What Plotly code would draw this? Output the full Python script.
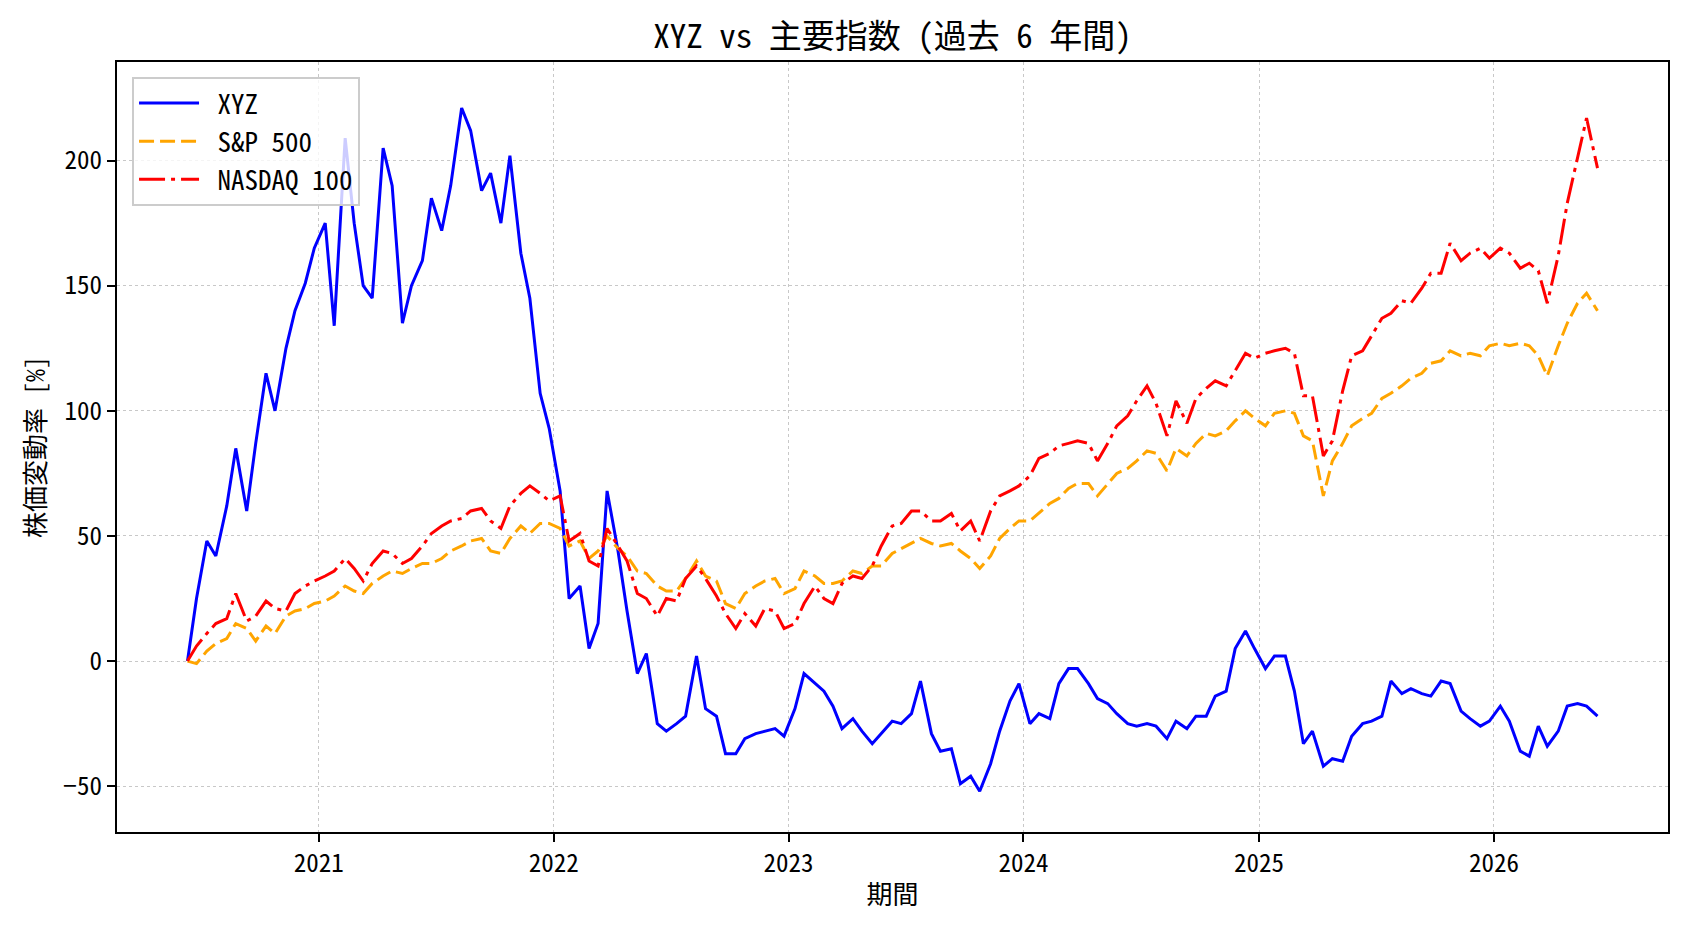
import pandas as pd
import plotly.graph_objects as go

# Semi-monthly observation dates (2020-06-11 ... 2026-06-11)
dates = pd.date_range("2020-06-01", "2026-06-01", freq="SMS") + pd.Timedelta(days=10)

xyz = [
    0, 25, 48, 42, 62, 85, 60, 87, 115, 100,
    125, 140, 151, 165, 175, 134, 209, 175, 150, 145,
    205, 190, 135, 150, 160, 185, 172, 190, 221, 212,
    188, 195, 175, 202, 163, 145, 107, 93, 68, 25,
    30, 5, 15, 68, 44, 20, -5, 3, -25, -28,
    -25, -22, 2, -19, -22, -37, -37, -31, -29, -28,
    -27, -30, -19, -5, -9, -12, -18, -27, -23, -28,
    -33, -29, -24, -25, -21, -8, -29, -36, -35, -49,
    -46, -52, -41, -28, -16, -9, -25, -21, -23, -9,
    -3, -3, -9, -15, -17, -21, -25, -26, -25, -26,
    -31, -24, -27, -22, -22, -14, -12, 5, 12, 5,
    -3, 2, 2, -12, -33, -28, -42, -39, -40, -30,
    -25, -24, -22, -8, -13, -11, -13, -14, -8, -9,
    -20, -23, -26, -24, -18, -24, -36, -38, -26, -34,
    -28, -18, -17, -18, -22,
]

sp500 = [
    0, -1, 4, 7, 9, 15, 13, 8, 14, 11,
    18, 20, 21, 23, 24, 26, 30, 28, 27, 31,
    34, 36, 35, 37, 39, 39, 41, 44, 46, 48,
    49, 44, 43, 49, 54, 51, 55, 55, 53, 46,
    48, 41, 44, 50, 45, 42, 36, 35, 30, 28,
    28, 33, 40, 34, 32, 23, 21, 27, 30, 32,
    33, 27, 29, 36, 34, 31, 31, 32, 36, 35,
    38, 38, 43, 45, 47, 49, 47, 46, 47, 44,
    41, 37, 42, 49, 53, 56, 56, 59, 63, 65,
    69, 71, 71, 66, 71, 75, 77, 80, 84, 83,
    76, 85, 82, 87, 91, 90, 92, 96, 100, 97,
    94, 99, 100, 99, 90, 88, 66, 80, 87, 94,
    97, 99, 105, 107, 110, 113, 115, 119, 120, 124,
    122, 123, 122, 126, 127, 126, 127, 126, 122, 114,
    126, 135, 143, 147, 140,
]

nasdaq100 = [
    0, 6, 11, 15, 17, 27, 16, 18, 24, 21,
    20, 27, 30, 32, 34, 36, 41, 37, 32, 39,
    44, 43, 39, 41, 46, 51, 54, 56, 57, 60,
    61, 56, 53, 62, 67, 70, 67, 64, 66, 48,
    51, 40, 38, 53, 46, 40, 27, 25, 18, 25,
    24, 33, 38, 33, 26, 19, 13, 19, 14, 21,
    20, 13, 15, 23, 30, 25, 23, 31, 34, 33,
    38, 46, 54, 55, 60, 60, 56, 56, 59, 52,
    56, 48, 60, 66, 68, 70, 74, 81, 83, 86,
    87, 88, 87, 80, 87, 94, 98, 104, 110, 103,
    90, 104, 95, 105, 109, 112, 110, 116, 123, 121,
    123, 124, 125, 123, 106, 106, 82, 88, 108, 122,
    124, 130, 137, 139, 144, 143, 149, 155, 155, 167,
    160, 163, 165, 161, 165, 163, 157, 159, 156, 143,
    162, 183, 201, 217, 197,
]

year_ticks = ["2021", "2022", "2023", "2024", "2025", "2026"]
y_ticks = [-50, 0, 50, 100, 150, 200]

assert len(xyz) == len(dates) == len(sp500) == len(nasdaq100)

FONT = "Noto Sans Mono CJK JP, Noto Sans CJK JP, sans-serif"
PAD = "\u00a0"

fig = go.Figure()
fig.add_trace(go.Scatter(x=dates, y=xyz, mode="lines", name=PAD + "XYZ",
                         line=dict(color="#0000ff", width=3)))
fig.add_trace(go.Scatter(x=dates, y=sp500, mode="lines", name=PAD + "S&P 500",
                         line=dict(color="#ffa500", width=3, dash="15px,6px")))
fig.add_trace(go.Scatter(x=dates, y=nasdaq100, mode="lines", name=PAD + "NASDAQ 100",
                         line=dict(color="#ff0000", width=3, dash="26px,6px,4px,6px")))

span = dates[-1] - dates[0]
x0 = dates[0] - 0.05 * span
x1 = dates[-1] + 0.05 * span

fig.update_layout(
    width=1688, height=932,
    margin=dict(l=117, r=20, t=62, b=100, autoexpand=False),
    paper_bgcolor="white", plot_bgcolor="white",
    font=dict(family=FONT, size=26, color="black"),
    title=dict(text="XYZ vs 主要指数 (過去 6 年間)", xref="paper", x=0.5, xanchor="center",
               yref="container", y=1 - 36 / 932, yanchor="middle",
               font=dict(family=FONT, size=33, color="black")),
    legend=dict(x=0.0097, y=0.9805, xanchor="left", yanchor="top",
                bgcolor="rgba(255,255,255,0.8)", bordercolor="#cccccc", borderwidth=2,
                font=dict(family=FONT, size=27, color="black"), itemwidth=60,
                tracegroupgap=0),
    showlegend=True,
)

fig.update_xaxes(
    type="date", range=[x0, x1], automargin=False,
    tickvals=[pd.Timestamp(f"{y}-01-01") for y in year_ticks], ticktext=year_ticks,
    showline=True, linecolor="black", linewidth=2, mirror=True,
    ticks="outside", ticklen=8, tickwidth=1.5, tickcolor="black",
    showgrid=True, gridcolor="#c8c8c8", gridwidth=1.2, griddash="dot",
    zeroline=False,
    title=dict(text="期間", standoff=8, font=dict(family=FONT, size=26)),
    tickfont=dict(family=FONT, size=25),
)
fig.update_yaxes(
    range=[-68.3, 239.4], automargin=False,
    tickvals=y_ticks,
    showline=True, linecolor="black", linewidth=2, mirror=True,
    ticks="outside", ticklen=8, tickwidth=1.5, tickcolor="black",
    showgrid=True, gridcolor="#c8c8c8", gridwidth=1.2, griddash="dot",
    zeroline=False,
    title=dict(text="株価変動率 [%]", standoff=10, font=dict(family=FONT, size=26)),
    tickfont=dict(family=FONT, size=25),
)

fig.write_html("out.html")
